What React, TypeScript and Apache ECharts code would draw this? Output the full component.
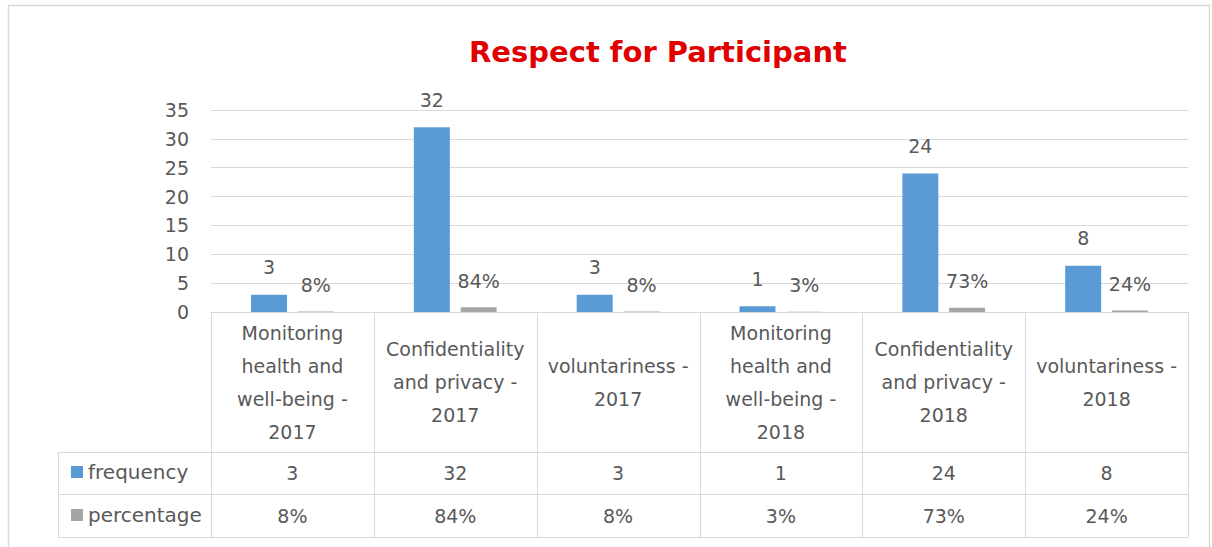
import React, { useEffect, useRef } from "react";
import * as echarts from "echarts";

const categories = [
  "Monitoring\nhealth and\nwell-being -\n2017",
  "Confidentiality\nand privacy -\n2017",
  "voluntariness -\n2017",
  "Monitoring\nhealth and\nwell-being -\n2018",
  "Confidentiality\nand privacy -\n2018",
  "voluntariness -\n2018",
];
const frequency = [3, 32, 3, 1, 24, 8];
const percentage = [0.08, 0.84, 0.08, 0.03, 0.73, 0.24];
const yTicks = { min: 0, max: 35, interval: 5 };

const W = 1212;
const H = 547;
const FONT = "'DejaVu Sans', sans-serif";
const FS = 19;
const TXT = "#595959";
const LINE = "#d9d9d9";

const gridLeft = 211;
const gridRight = 1188;
const gridTop = 110;
const gridBottom = 312;
const rowCatBottom = 452;
const rowFreqBottom = 494;
const rowPctBottom = 537;
const tableLeft = 58;

const pct = (v: number) => Math.round(v * 100) + "%";

export default function App() {
  const ref = useRef<HTMLDivElement>(null);
  useEffect(() => {
    if (!ref.current) return;
    const chart = echarts.init(ref.current, undefined, { renderer: "svg" });
    const cellW = (gridRight - gridLeft) / categories.length;
    const lines: any[] = [];
    for (let i = 0; i <= categories.length; i++) {
      const x = Math.round(gridLeft + i * cellW) + 0.5;
      lines.push({
        type: "line",
        shape: { x1: x, y1: gridBottom, x2: x, y2: rowPctBottom },
        style: { stroke: LINE, lineWidth: 1 },
      });
    }
    [rowCatBottom, rowFreqBottom, rowPctBottom].forEach((y) => {
      lines.push({
        type: "line",
        shape: { x1: tableLeft, y1: y + 0.5, x2: gridRight, y2: y + 0.5 },
        style: { stroke: LINE, lineWidth: 1 },
      });
    });
    lines.push({
      type: "line",
      shape: { x1: tableLeft + 0.5, y1: rowCatBottom, x2: tableLeft + 0.5, y2: rowPctBottom },
      style: { stroke: LINE, lineWidth: 1 },
    });
    lines.push({
      type: "rect",
      shape: { x: 8.5, y: 5.5, width: 1201, height: 560 },
      style: { fill: "none", stroke: LINE, lineWidth: 1.5 },
    });

    const baseLabel = {
      interval: 0,
      fontSize: FS,
      color: TXT,
      fontFamily: FONT,
      verticalAlign: "middle" as const,
    };

    chart.setOption({
      animation: false,
      backgroundColor: "#ffffff",
      textStyle: { fontFamily: FONT },
      title: {
        text: "Respect for Participant",
        left: 464,
        top: 32,
        textStyle: { color: "#e00000", fontSize: 29, fontWeight: "bold", fontFamily: FONT },
      },
      legend: {
        data: ["frequency", "percentage"],
        orient: "vertical",
        left: 66,
        top: 457,
        itemWidth: 12,
        itemHeight: 12,
        itemGap: 23,
        icon: "rect",
        selectedMode: false,
        textStyle: { fontSize: FS + 1, color: TXT, fontFamily: FONT, lineHeight: 20 },
      },
      grid: {
        left: gridLeft,
        top: gridTop,
        width: gridRight - gridLeft,
        height: gridBottom - gridTop,
        containLabel: false,
      },
      xAxis: [
        {
          type: "category",
          data: categories,
          axisLine: { show: true, lineStyle: { color: LINE } },
          axisTick: { show: false },
          axisLabel: { ...baseLabel, margin: 70, lineHeight: 33 },
        },
        {
          type: "category",
          data: categories,
          position: "bottom",
          axisLine: { show: false },
          axisTick: { show: false },
          axisLabel: {
            ...baseLabel,
            margin: 161,
            formatter: (_v: string, i: number) => String(frequency[i]),
          },
        },
        {
          type: "category",
          data: categories,
          position: "bottom",
          axisLine: { show: false },
          axisTick: { show: false },
          axisLabel: {
            ...baseLabel,
            margin: 204,
            formatter: (_v: string, i: number) => pct(percentage[i]),
          },
        },
      ],
      yAxis: {
        type: "value",
        min: yTicks.min,
        max: yTicks.max,
        interval: yTicks.interval,
        axisLine: { show: false },
        axisTick: { show: false },
        splitLine: { lineStyle: { color: LINE } },
        axisLabel: { fontSize: FS, color: TXT, fontFamily: FONT, margin: 22 },
      },
      series: [
        {
          name: "frequency",
          type: "bar",
          xAxisIndex: 0,
          data: frequency,
          barWidth: 36,
          barGap: "30%",
          itemStyle: { color: "#5b9bd5" },
          label: { show: true, position: "top", distance: 18, fontSize: FS, color: TXT, fontFamily: FONT },
        },
        {
          name: "percentage",
          type: "bar",
          xAxisIndex: 0,
          data: percentage,
          barWidth: 36,
          barGap: "30%",
          itemStyle: { color: "#a5a5a5" },
          label: {
            show: true,
            position: "top",
            distance: 17,
            fontSize: FS,
            color: TXT,
            fontFamily: FONT,
            formatter: (p: any) => pct(p.value),
          },
        },
      ],
      graphic: lines,
    });
    return () => chart.dispose();
  }, []);
  return (
    <div
      ref={ref}
      style={{ position: "absolute", left: 0, top: 0, width: W, height: H }}
    />
  );
}
